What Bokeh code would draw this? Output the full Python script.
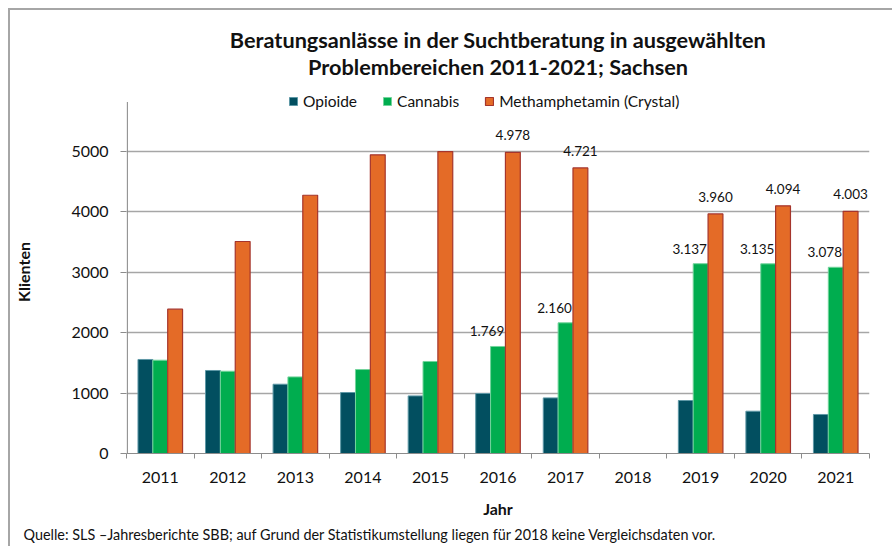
import numpy as np
from bokeh.plotting import figure
from bokeh.models import FixedTicker, Legend, LegendItem, Title, Range1d
from bokeh.embed import file_html
from bokeh.resources import INLINE
from bokeh.core.properties import value

# ---- data ----
years = ["2011", "2012", "2013", "2014", "2015", "2016", "2017", "2018", "2019", "2020", "2021"]
opioide = [1554, 1372, 1145, 1008, 952, 992, 919, float("nan"), 876, 699, 645]
cannabis = [1542, 1360, 1266, 1388, 1521, 1769, 2160, float("nan"), 3137, 3135, 3078]
meth = [2385, 3504, 4269, 4936, 4990, 4978, 4721, float("nan"), 3960, 4094, 4003]
labeled_years = ["2016", "2017", "2019", "2020", "2021"]
y_ticks = [0, 1000, 2000, 3000, 4000, 5000]
series_names = ["Opioide", "Cannabis", "Methamphetamin (Crystal)"]

title_1 = "Beratungsanlässe in der Suchtberatung in ausgewählten"
title_2 = "Problembereichen 2011-2021; Sachsen"
footer = "Quelle: SLS \u2013Jahresberichte SBB; auf Grund der Statistikumstellung liegen f\u00fcr 2018 keine Vergleichsdaten vor."

FONT = "Lato"
GRID = "#A6A6A6"
AXIS = "#8C8C8C"
TXT = "#111111"

n = len(years)
xc = np.arange(n) + 0.5
bw = 0.22

ML, MR, MT, MB = 116, 25, 80, 95
W, H = 884, 538
FW, FH = W - ML - MR, H - MT - MB

p = figure(width=W, height=H,
           x_range=Range1d(0, n), y_range=Range1d(0, 6000),
           output_backend="svg", toolbar_location=None,
           min_border_left=ML, min_border_right=MR,
           min_border_top=MT, min_border_bottom=MB,
           styles={"margin-left": "8px", "margin-top": "8px",
                   "border-top": "2px solid #A6A6A6", "border-left": "2px solid #A6A6A6"})
p.outline_line_color = None

# title: outer line is the figure title, inner line is added afterwards
p.title.text = title_1
p.title.align = "center"
p.title.text_font = FONT
p.title.text_font_size = "21.7px"
p.title.text_font_style = "bold"
p.title.text_color = TXT
p.title.standoff = -23
t2 = Title(text=title_2, align="center", text_font=FONT, text_font_size="21.7px",
           text_font_style="bold", text_color=TXT, standoff=21)
p.add_layout(t2, "above")

# bars
r1 = p.vbar(x=xc - bw, top=opioide, width=bw, bottom=0,
            fill_color="#024F60", line_color="#5E98A6", line_width=1)
r2 = p.vbar(x=xc, top=cannabis, width=bw, bottom=0,
            fill_color="#00AD4F", line_color="#73D49C", line_width=1)
r3 = p.vbar(x=xc + bw, top=meth, width=bw, bottom=0,
            fill_color="#E46B27", line_color="#A5352C", line_width=1.2)

# y axis line (starts a bit below the top of the plot area, as in the reference)
p.segment(x0=[0.012], y0=[0], x1=[0.012], y1=[5810], line_color=AXIS, line_width=1.2)

# data labels
def fmt(v):
    return f"{int(v):,}".replace(",", ".")

idx = [years.index(y) for y in labeled_years]
p.text(x=[xc[i] for i in idx], y=[cannabis[i] for i in idx],
       text=[fmt(cannabis[i]) for i in idx],
       x_offset=-11, y_offset=-15, text_align="center", text_baseline="middle",
       text_font=value(FONT), text_font_size="13.5px", text_color=TXT)
p.text(x=[xc[i] + bw for i in idx], y=[meth[i] for i in idx],
       text=[fmt(meth[i]) for i in idx],
       x_offset=0, y_offset=-17, text_align="center", text_baseline="middle",
       text_font=value(FONT), text_font_size="13.5px", text_color=TXT)

# legend
legend = Legend(items=[LegendItem(label=series_names[0], renderers=[r1]),
                       LegendItem(label=series_names[1], renderers=[r2]),
                       LegendItem(label=series_names[2], renderers=[r3])],
                location=(162, FH - 19.5), orientation="horizontal",
                border_line_color=None, background_fill_alpha=0,
                label_text_font=FONT, label_text_font_size="15.5px", label_text_color=TXT,
                glyph_width=10, glyph_height=10, label_standoff=5, spacing=25,
                padding=0, margin=0, label_height=17)
p.add_layout(legend)

# axes
xa = p.xaxis[0]
xa.ticker = FixedTicker(ticks=list(xc), minor_ticks=list(range(n + 1)))
xa.major_label_overrides = {float(xc[i]): years[i] for i in range(n)}
xa.major_tick_in = 0
xa.major_tick_out = 0
xa.minor_tick_in = 0
xa.minor_tick_out = 5
xa.minor_tick_line_color = AXIS
xa.axis_line_color = AXIS
xa.major_label_text_font = FONT
xa.major_label_text_font_size = "16px"
xa.major_label_text_color = TXT
xa.major_label_standoff = 13
xa.axis_label = "Jahr"
xa.axis_label_text_font = FONT
xa.axis_label_text_font_size = "16px"
xa.axis_label_text_font_style = "bold"
xa.axis_label_text_color = TXT
xa.axis_label_standoff = 13

ya = p.yaxis[0]
ya.ticker = FixedTicker(ticks=y_ticks)
ya.major_tick_in = 0
ya.major_tick_out = 6
ya.minor_tick_out = 0
ya.minor_tick_in = 0
ya.major_tick_line_color = AXIS
ya.axis_line_color = None
ya.major_label_text_font = FONT
ya.major_label_text_font_size = "16px"
ya.major_label_text_color = TXT
ya.major_label_standoff = 12
ya.axis_label = "Klienten"
ya.axis_label_text_font = FONT
ya.axis_label_text_font_size = "16px"
ya.axis_label_text_font_style = "bold"
ya.axis_label_text_color = TXT
ya.axis_label_standoff = 35

p.xgrid.grid_line_color = None
p.ygrid.grid_line_color = GRID
p.ygrid.grid_line_width = 1.3

# footer
ft = Title(text=footer, align="left", text_font=FONT, text_font_size="14.4px",
           text_font_style="normal", text_color=TXT, offset=-103, standoff=7)
p.add_layout(ft, "below")

open("out.html", "w").write(file_html(p, INLINE))
